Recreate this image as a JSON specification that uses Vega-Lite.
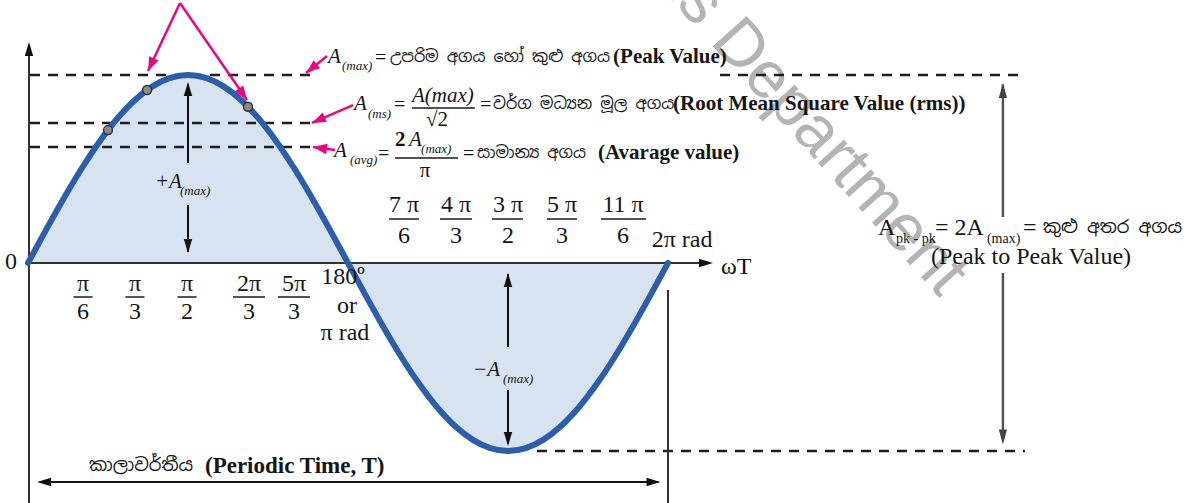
{
  "$schema": "https://vega.github.io/schema/vega-lite/v6.json",
  "width": 1198,
  "height": 503,
  "padding": 0,
  "autosize": {"type": "none"},
  "background": "#ffffff",
  "config": {"view": {"stroke": null}, "axis": {"disable": true}},
  "datasets": {
    "wave": [
      {"x": 0, "y": 0}, {"x": 10, "y": 0.1736}, {"x": 20, "y": 0.342}, {"x": 30, "y": 0.5},
      {"x": 40, "y": 0.6428}, {"x": 50, "y": 0.766}, {"x": 60, "y": 0.866}, {"x": 70, "y": 0.9397},
      {"x": 80, "y": 0.9848}, {"x": 90, "y": 1}, {"x": 100, "y": 0.9848}, {"x": 110, "y": 0.9397},
      {"x": 120, "y": 0.866}, {"x": 130, "y": 0.766}, {"x": 140, "y": 0.6428}, {"x": 150, "y": 0.5},
      {"x": 160, "y": 0.342}, {"x": 170, "y": 0.1736}, {"x": 180, "y": 0},
      {"x": 190, "y": -0.1736}, {"x": 200, "y": -0.342}, {"x": 210, "y": -0.5}, {"x": 220, "y": -0.6428},
      {"x": 230, "y": -0.766}, {"x": 240, "y": -0.866}, {"x": 250, "y": -0.9397}, {"x": 260, "y": -0.9848},
      {"x": 270, "y": -1}, {"x": 280, "y": -0.9848}, {"x": 290, "y": -0.9397}, {"x": 300, "y": -0.866},
      {"x": 310, "y": -0.766}, {"x": 320, "y": -0.6428}, {"x": 330, "y": -0.5}, {"x": 340, "y": -0.342},
      {"x": 350, "y": -0.1736}, {"x": 360, "y": 0}
    ],
    "dots": [
      {"x": 45, "y": 0.7071}, {"x": 67, "y": 0.9205}, {"x": 123.75, "y": 0.8315}
    ],
    "guides": [
      {"x": 1.13, "x2": 158.6, "y": 1},
      {"x": 389.25, "x2": 560.8, "y": 1},
      {"x": 1.13, "x2": 159.75, "y": 0.745},
      {"x": 1.13, "x2": 159.75, "y": 0.617},
      {"x": 286.3, "x2": 560.8, "y": -1}
    ],
    "ticks": [
      {"x": 30}, {"x": 60}, {"x": 90}, {"x": 120}, {"x": 150},
      {"x": 210}, {"x": 240}, {"x": 270}, {"x": 300}, {"x": 330}
    ],
    "segs": [
      {"grp": "axis", "x": 0.56, "y": -1.2766, "x2": 0.56, "y2": 1.16},
      {"grp": "axis", "x": 0, "y": 0, "x2": 380, "y2": 0},
      {"grp": "axis", "x": 360, "y": -0.1436, "x2": 360, "y2": -1.2766},
      {"grp": "arrow", "x": 90, "y": 0.532, "x2": 90, "y2": 0.95},
      {"grp": "arrow", "x": 90, "y": 0.3085, "x2": 90, "y2": 0.06},
      {"grp": "arrow", "x": 270, "y": -0.447, "x2": 270, "y2": -0.06},
      {"grp": "arrow", "x": 270, "y": -0.6755, "x2": 270, "y2": -0.96},
      {"grp": "arrow", "x": 6.5, "y": -1.165, "x2": 354.5, "y2": -1.165},
      {"grp": "gray", "x": 548.4, "y": 0.2447, "x2": 548.4, "y2": 0.95},
      {"grp": "gray", "x": 548.4, "y": -0.053, "x2": 548.4, "y2": -0.94},
      {"grp": "mag", "x": 168.2, "y": 1.101, "x2": 156.4, "y2": 1.0106},
      {"grp": "mag", "x": 182.8, "y": 0.84, "x2": 159.75, "y2": 0.745},
      {"grp": "mag", "x": 172.7, "y": 0.601, "x2": 160.3, "y2": 0.617},
      {"grp": "mag", "x": 85.5, "y": 1.383, "x2": 67.5, "y2": 1.021},
      {"grp": "mag", "x": 85.5, "y": 1.383, "x2": 123.2, "y2": 0.867},
      {"grp": "bar", "x": 216, "y": 0.8245, "x2": 251.4, "y2": 0.8245},
      {"grp": "bar", "x": 206.4, "y": 0.5585, "x2": 241.9, "y2": 0.5585},
      {"grp": "bar", "x": 25.6, "y": -0.1809, "x2": 36.3, "y2": -0.1809},
      {"grp": "bar", "x": 54.8, "y": -0.1809, "x2": 65.5, "y2": -0.1809},
      {"grp": "bar", "x": 84.1, "y": -0.1809, "x2": 94.8, "y2": -0.1809},
      {"grp": "bar", "x": 115.3, "y": -0.1809, "x2": 133.3, "y2": -0.1809},
      {"grp": "bar", "x": 140.6, "y": -0.1809, "x2": 158.6, "y2": -0.1809},
      {"grp": "bar", "x": 203.1, "y": 0.234, "x2": 219.9, "y2": 0.234},
      {"grp": "bar", "x": 231.75, "y": 0.234, "x2": 249.75, "y2": 0.234},
      {"grp": "bar", "x": 261, "y": 0.234, "x2": 278.4, "y2": 0.234},
      {"grp": "bar", "x": 291.9, "y": 0.234, "x2": 308.8, "y2": 0.234},
      {"grp": "bar", "x": 322.3, "y": 0.234, "x2": 347.6, "y2": 0.234}
    ],
    "heads": [
      {"grp": "axis", "x": 0.56, "y": 1.1755, "dir": 0},
      {"grp": "axis", "x": 385.3, "y": 0, "dir": 90},
      {"grp": "arrow", "x": 90, "y": 0.963, "dir": 0},
      {"grp": "arrow", "x": 90, "y": 0.053, "dir": 180},
      {"grp": "arrow", "x": 270, "y": -0.053, "dir": 0},
      {"grp": "arrow", "x": 270, "y": -0.9734, "dir": 180},
      {"grp": "arrow", "x": 5.1, "y": -1.165, "dir": 270},
      {"grp": "arrow", "x": 355.8, "y": -1.165, "dir": 90},
      {"grp": "gray", "x": 548.4, "y": 0.957, "dir": 0},
      {"grp": "gray", "x": 548.4, "y": -0.965, "dir": 180},
      {"grp": "mag", "x": 156.4, "y": 1.0106, "dir": 231},
      {"grp": "mag", "x": 159.75, "y": 0.745, "dir": 246},
      {"grp": "mag", "x": 160.3, "y": 0.617, "dir": 278},
      {"grp": "mag", "x": 67.5, "y": 1.021, "dir": 205},
      {"grp": "mag", "x": 123.2, "y": 0.867, "dir": 145}
    ],
    "labels": [
      {"sty": "wm", "x": 521.4, "y": -0.117, "t": "Educational Publications Department"},
      {"sty": "c24", "x": 30.94, "y": -0.1117, "t": "π"},
      {"sty": "c24", "x": 30.94, "y": -0.2606, "t": "6"},
      {"sty": "c24", "x": 60.19, "y": -0.1117, "t": "π"},
      {"sty": "c24", "x": 60.19, "y": -0.2606, "t": "3"},
      {"sty": "c24", "x": 89.44, "y": -0.1117, "t": "π"},
      {"sty": "c24", "x": 89.44, "y": -0.2606, "t": "2"},
      {"sty": "c24", "x": 124.3, "y": -0.1117, "t": "2π"},
      {"sty": "c24", "x": 124.3, "y": -0.2606, "t": "3"},
      {"sty": "c24", "x": 149.6, "y": -0.1117, "t": "5π"},
      {"sty": "c24", "x": 149.6, "y": -0.2606, "t": "3"},
      {"sty": "c24", "x": 177.2, "y": -0.0745, "t": "180º"},
      {"sty": "c24", "x": 179.4, "y": -0.2287, "t": "or"},
      {"sty": "c24", "x": 178.3, "y": -0.3723, "t": "π rad"},
      {"sty": "c24", "x": 211.5, "y": 0.3085, "t": "7 π"},
      {"sty": "c24", "x": 211.5, "y": 0.1463, "t": "6"},
      {"sty": "c24", "x": 240.75, "y": 0.3085, "t": "4 π"},
      {"sty": "c24", "x": 240.75, "y": 0.1463, "t": "3"},
      {"sty": "c24", "x": 270, "y": 0.3085, "t": "3 π"},
      {"sty": "c24", "x": 270, "y": 0.1463, "t": "2"},
      {"sty": "c24", "x": 300.4, "y": 0.3085, "t": "5 π"},
      {"sty": "c24", "x": 300.4, "y": 0.1463, "t": "3"},
      {"sty": "c24", "x": 334.7, "y": 0.3085, "t": "11 π"},
      {"sty": "c24", "x": 334.7, "y": 0.1463, "t": "6"},
      {"sty": "c24", "x": 367.9, "y": 0.1223, "t": "2π rad"},
      {"sty": "c24", "x": -9.56, "y": 0.0053, "t": "0"},
      {"sty": "c24", "x": 564.2, "y": 0.0319, "t": "(Peak to Peak Value)"},
      {"sty": "l24", "x": 389.8, "y": -0.0213, "t": "ωT"},
      {"sty": "l24", "x": 478.1, "y": 0.1862, "t": "A"},
      {"sty": "l24", "x": 510.2, "y": 0.1862, "t": "= 2A"},
      {"sty": "l24", "x": 559.7, "y": 0.1862, "t": "="},
      {"sty": "l14", "x": 488.25, "y": 0.1277, "t": "pk - pk"},
      {"sty": "l14", "x": 539.4, "y": 0.1277, "t": "(max)"},
      {"sty": "i21", "x": 168.75, "y": 1.0957, "t": "A"},
      {"sty": "i21", "x": 183.4, "y": 0.8457, "t": "A"},
      {"sty": "i21", "x": 172.1, "y": 0.5957, "t": "A"},
      {"sty": "i21", "x": 71.4, "y": 0.4309, "t": "+A"},
      {"sty": "i21", "x": 250.3, "y": -0.5691, "t": "−A"},
      {"sty": "i21", "x": 214.3, "y": 0.6543, "t": "A"},
      {"sty": "ic21", "x": 233.4, "y": 0.8883, "t": "A(max)"},
      {"sty": "i13", "x": 176.6, "y": 1.0479, "t": "(max)"},
      {"sty": "i13", "x": 191.25, "y": 0.7926, "t": "(ms)"},
      {"sty": "i13", "x": 181.1, "y": 0.5479, "t": "(avg)"},
      {"sty": "i13", "x": 221.1, "y": 0.6064, "t": "(max)"},
      {"sty": "i13", "x": 85.5, "y": 0.383, "t": "(max)"},
      {"sty": "i13", "x": 267.2, "y": -0.617, "t": "(max)"},
      {"sty": "b21", "x": 329.1, "y": 1.0957, "t": "(Peak Value)"},
      {"sty": "b21", "x": 362.8, "y": 0.8457, "t": "(Root Mean Square Value (rms))"},
      {"sty": "b21", "x": 320.6, "y": 0.5851, "t": "(Avarage value)"},
      {"sty": "b21", "x": 206.4, "y": 0.6543, "t": "2"},
      {"sty": "b23", "x": 99.56, "y": -1.0798, "t": "(Periodic Time, T)"},
      {"sty": "eq", "x": 195.2, "y": 1.09, "t": "="},
      {"sty": "eq", "x": 205.9, "y": 0.8404, "t": "="},
      {"sty": "eq", "x": 254.25, "y": 0.8404, "t": "="},
      {"sty": "eq", "x": 196.9, "y": 0.5798, "t": "="},
      {"sty": "eq", "x": 244.7, "y": 0.5798, "t": "="},
      {"sty": "c21", "x": 230.1, "y": 0.7606, "t": "√2"},
      {"sty": "c21", "x": 223.3, "y": 0.4894, "t": "π"},
      {"sty": "si16", "x": 203.6, "y": 1.0957, "t": "උපරිම අගය හෝ කුළු අගය"},
      {"sty": "si16", "x": 261.6, "y": 0.8457, "t": "වර්ග මධ්‍යන මූල අගය"},
      {"sty": "si16", "x": 252.6, "y": 0.5851, "t": "සාමාන්‍ය අගය"},
      {"sty": "si18", "x": 570.9, "y": 0.1862, "t": "කුළු අතර අගය"},
      {"sty": "si18", "x": 34.3, "y": -1.0798, "t": "කාලාවර්තීය"}
    ]
  },
  "encoding": {
    "x": {"field": "x", "type": "quantitative", "scale": {"domain": [-15.75, 658.125], "nice": false, "zero": false}},
    "y": {"field": "y", "type": "quantitative", "scale": {"domain": [-1.2766, 1.399], "nice": false, "zero": false}}
  },
  "layer": [
    {
      "data": {"name": "labels"},
      "transform": [{"filter": "datum.sty === 'wm'"}],
      "mark": {"type": "text", "font": "Liberation Sans", "fontSize": 66, "angle": 48, "align": "right", "baseline": "middle", "color": "#b4b4b4"},
      "encoding": {"text": {"field": "t"}}
    },
    {
      "data": {"name": "wave"},
      "mark": {"type": "area", "interpolate": "monotone", "color": "#d7e3f0"},
      "encoding": {"y2": {"datum": 0}}
    },
    {
      "data": {"name": "guides"},
      "mark": {"type": "rule", "color": "#1e1e1e", "strokeWidth": 2.5, "strokeDash": [10, 8]},
      "encoding": {"x2": {"field": "x2"}}
    },
    {
      "data": {"name": "ticks"},
      "mark": {"type": "rule", "color": "#333333", "strokeWidth": 1.6},
      "encoding": {"y": {"datum": 0.0266}, "y2": {"datum": -0.0266}}
    },
    {
      "data": {"name": "segs"},
      "transform": [{"filter": "datum.grp === 'axis'"}],
      "mark": {"type": "rule", "color": "#333333", "strokeWidth": 2},
      "encoding": {"x2": {"field": "x2"}, "y2": {"field": "y2"}}
    },
    {
      "data": {"name": "wave"},
      "mark": {"type": "line", "interpolate": "monotone", "color": "#2d5ea9", "strokeWidth": 6, "strokeCap": "round"},
      "encoding": {}
    },
    {
      "data": {"name": "dots"},
      "mark": {"type": "point", "shape": "circle", "filled": true, "size": 80, "color": "#8a8a8a", "stroke": "#333333", "strokeWidth": 1.5, "opacity": 1},
      "encoding": {}
    },
    {
      "data": {"name": "segs"},
      "transform": [{"filter": "datum.grp === 'arrow'"}],
      "mark": {"type": "rule", "color": "#111111", "strokeWidth": 2},
      "encoding": {"x2": {"field": "x2"}, "y2": {"field": "y2"}}
    },
    {
      "data": {"name": "segs"},
      "transform": [{"filter": "datum.grp === 'gray'"}],
      "mark": {"type": "rule", "color": "#555555", "strokeWidth": 2.5},
      "encoding": {"x2": {"field": "x2"}, "y2": {"field": "y2"}}
    },
    {
      "data": {"name": "segs"},
      "transform": [{"filter": "datum.grp === 'mag'"}],
      "mark": {"type": "rule", "color": "#e5097f", "strokeWidth": 2.5},
      "encoding": {"x2": {"field": "x2"}, "y2": {"field": "y2"}}
    },
    {
      "data": {"name": "segs"},
      "transform": [{"filter": "datum.grp === 'bar'"}],
      "mark": {"type": "rule", "color": "#1a1a1a", "strokeWidth": 1.5},
      "encoding": {"x2": {"field": "x2"}, "y2": {"field": "y2"}}
    },
    {
      "data": {"name": "heads"},
      "transform": [{"filter": "datum.grp === 'axis' || datum.grp === 'arrow'"}],
      "mark": {"type": "point", "shape": "M0,0L0.6,2L-0.6,2Z", "filled": true, "size": 196, "color": "#111111", "strokeWidth": 0, "opacity": 1},
      "encoding": {"angle": {"field": "dir", "type": "quantitative", "scale": null}}
    },
    {
      "data": {"name": "heads"},
      "transform": [{"filter": "datum.grp === 'gray'"}],
      "mark": {"type": "point", "shape": "M0,0L0.55,2L-0.55,2Z", "filled": true, "size": 225, "color": "#444444", "strokeWidth": 0, "opacity": 1},
      "encoding": {"angle": {"field": "dir", "type": "quantitative", "scale": null}}
    },
    {
      "data": {"name": "heads"},
      "transform": [{"filter": "datum.grp === 'mag'"}],
      "mark": {"type": "point", "shape": "M0,0L0.75,2L-0.75,2Z", "filled": true, "size": 196, "color": "#e5097f", "strokeWidth": 0, "opacity": 1},
      "encoding": {"angle": {"field": "dir", "type": "quantitative", "scale": null}}
    },
    {
      "data": {"name": "labels"},
      "transform": [{"filter": "datum.sty === 'c24'"}],
      "mark": {"type": "text", "font": "Liberation Serif", "fontSize": 24, "align": "center", "baseline": "middle", "color": "#151515"},
      "encoding": {"text": {"field": "t"}}
    },
    {
      "data": {"name": "labels"},
      "transform": [{"filter": "datum.sty === 'l24'"}],
      "mark": {"type": "text", "font": "Liberation Serif", "fontSize": 24, "align": "left", "baseline": "middle", "color": "#151515"},
      "encoding": {"text": {"field": "t"}}
    },
    {
      "data": {"name": "labels"},
      "transform": [{"filter": "datum.sty === 'l14'"}],
      "mark": {"type": "text", "font": "Liberation Serif", "fontSize": 14, "align": "left", "baseline": "middle", "color": "#151515"},
      "encoding": {"text": {"field": "t"}}
    },
    {
      "data": {"name": "labels"},
      "transform": [{"filter": "datum.sty === 'i21'"}],
      "mark": {"type": "text", "font": "Liberation Serif", "fontStyle": "italic", "fontSize": 21, "align": "left", "baseline": "middle", "color": "#151515"},
      "encoding": {"text": {"field": "t"}}
    },
    {
      "data": {"name": "labels"},
      "transform": [{"filter": "datum.sty === 'ic21'"}],
      "mark": {"type": "text", "font": "Liberation Serif", "fontStyle": "italic", "fontSize": 21, "align": "center", "baseline": "middle", "color": "#151515"},
      "encoding": {"text": {"field": "t"}}
    },
    {
      "data": {"name": "labels"},
      "transform": [{"filter": "datum.sty === 'i13'"}],
      "mark": {"type": "text", "font": "Liberation Serif", "fontStyle": "italic", "fontSize": 13, "align": "left", "baseline": "middle", "color": "#151515"},
      "encoding": {"text": {"field": "t"}}
    },
    {
      "data": {"name": "labels"},
      "transform": [{"filter": "datum.sty === 'b21'"}],
      "mark": {"type": "text", "font": "Liberation Serif", "fontWeight": "bold", "fontSize": 21, "align": "left", "baseline": "middle", "color": "#151515"},
      "encoding": {"text": {"field": "t"}}
    },
    {
      "data": {"name": "labels"},
      "transform": [{"filter": "datum.sty === 'b23'"}],
      "mark": {"type": "text", "font": "Liberation Serif", "fontWeight": "bold", "fontSize": 23, "align": "left", "baseline": "middle", "color": "#151515"},
      "encoding": {"text": {"field": "t"}}
    },
    {
      "data": {"name": "labels"},
      "transform": [{"filter": "datum.sty === 'eq'"}],
      "mark": {"type": "text", "font": "Liberation Serif", "fontSize": 20, "align": "left", "baseline": "middle", "color": "#151515"},
      "encoding": {"text": {"field": "t"}}
    },
    {
      "data": {"name": "labels"},
      "transform": [{"filter": "datum.sty === 'c21'"}],
      "mark": {"type": "text", "font": "Liberation Serif", "fontSize": 21, "align": "center", "baseline": "middle", "color": "#151515"},
      "encoding": {"text": {"field": "t"}}
    },
    {
      "data": {"name": "labels"},
      "transform": [{"filter": "datum.sty === 'si16'"}],
      "mark": {"type": "text", "font": "Noto Sans Sinhala, Noto Serif Sinhala, Liberation Serif, serif", "fontSize": 16, "align": "left", "baseline": "middle", "color": "#151515"},
      "encoding": {"text": {"field": "t"}}
    },
    {
      "data": {"name": "labels"},
      "transform": [{"filter": "datum.sty === 'si18'"}],
      "mark": {"type": "text", "font": "Noto Sans Sinhala, Noto Serif Sinhala, Liberation Serif, serif", "fontSize": 18, "align": "left", "baseline": "middle", "color": "#151515"},
      "encoding": {"text": {"field": "t"}}
    }
  ]
}
